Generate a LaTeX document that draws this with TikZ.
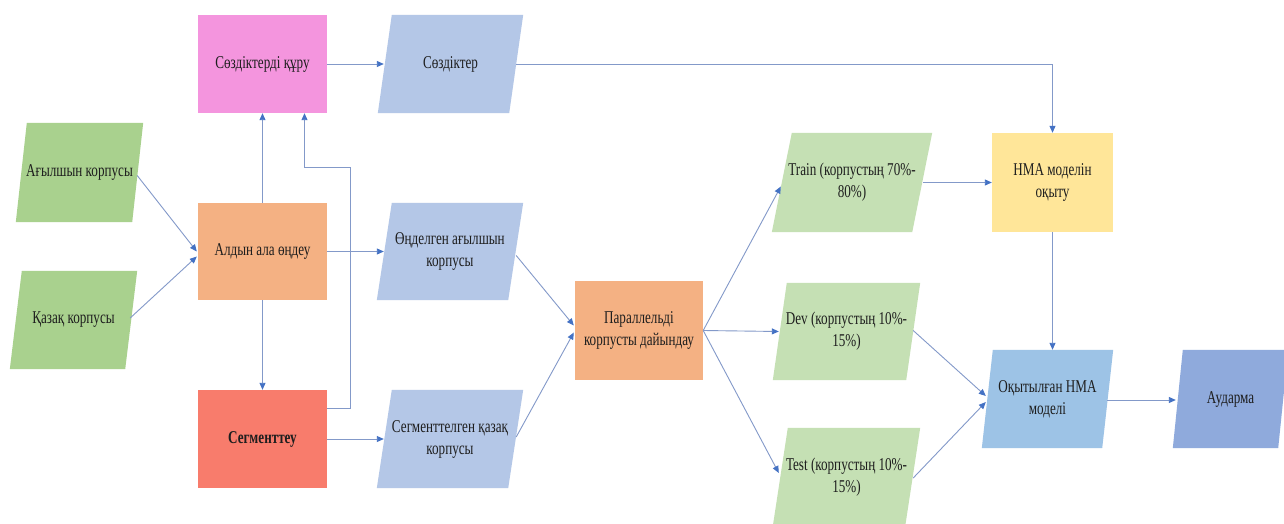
\documentclass[tikz,border=0pt]{standalone}
\usepackage{fontspec}
\setmainfont[FakeStretch=0.73]{Liberation Serif}
\usetikzlibrary{arrows.meta,calc,backgrounds}

\definecolor{inputgreen}{HTML}{A9D18E}
\definecolor{splitgreen}{HTML}{C5E0B4}
\definecolor{dictpink}{HTML}{F495DE}
\definecolor{datablue}{HTML}{B4C7E7}
\definecolor{procorange}{HTML}{F4B183}
\definecolor{segred}{HTML}{F87C6C}
\definecolor{trainyellow}{HTML}{FFE699}
\definecolor{modelblue}{HTML}{9DC3E6}
\definecolor{outblue}{HTML}{8FAADC}
\definecolor{linkline}{HTML}{8399C9}
\definecolor{linktip}{HTML}{4472C4}
\definecolor{labeltext}{HTML}{1E1E1E}

\tikzset{
  x=1pt, y=-1pt,
  shapebox/.style={rectangle, inner sep=0pt, align=center,
    font=\fontsize{18}{22}\selectfont, text=labeltext},
  procbox/.style={shapebox},
  databox/.style={shapebox},
  conn/.style={draw=linkline, line width=0.9pt,
    -{Triangle[length=7pt,width=6pt,color=linktip]}},
}

\begin{document}
\begin{tikzpicture}
\useasboundingbox (0,0) rectangle (1284,524);

% process boxes
\node[procbox, fill=dictpink, minimum width=129pt, minimum height=98pt] (dictb) at (262.5,64) {Сөздіктерді құру};
\node[procbox, fill=procorange, minimum width=129pt, minimum height=97pt] (pre) at (262.5,251.5) {Алдын ала өңдеу};
\node[procbox, fill=segred, minimum width=129pt, minimum height=98pt, font=\fontsize{18}{22}\selectfont\bfseries] (seg) at (262.5,439) {Сегменттеу};
\node[procbox, fill=procorange, minimum width=128pt, minimum height=99pt] (par) at (639,330.5) {Параллельді\\корпусты дайындау};
\node[procbox, fill=trainyellow, minimum width=121pt, minimum height=99pt] (nma) at (1052.5,182.5) {НМА моделін\\оқыту};

% data (parallelogram) boxes, filled on the background layer below
\node[databox, minimum width=127pt, minimum height=99pt] (en) at (79.5,172.5) {Ағылшын корпусы};
\node[databox, minimum width=127pt, minimum height=98pt] (kk) at (73.5,320) {Қазақ корпусы};
\node[databox, minimum width=145pt, minimum height=98pt] (dict) at (450.5,64) {Сөздіктер};
\node[databox, minimum width=146pt, minimum height=97pt] (enp) at (450,251.5) {Өңделген ағылшын\\корпусы};
\node[databox, minimum width=146pt, minimum height=98pt] (kkp) at (450,439) {Сегменттелген қазақ\\корпусы};
\node[databox, minimum width=160pt, minimum height=99pt] (train) at (852,182.5) {Train (корпустың 70\%-\\80\%)};
\node[databox, minimum width=147pt, minimum height=97pt] (dev) at (846.5,331.5) {Dev (корпустың 10\%-\\15\%)};
\node[databox, minimum width=147pt, minimum height=98pt] (test) at (846.5,477) {Test (корпустың 10\%-\\15\%)};
\node[databox, minimum width=131pt, minimum height=98pt] (trained) at (1047.5,399) {Оқытылған НМА\\моделі};
\node[databox, minimum width=115pt, minimum height=98pt] (tr) at (1230.5,399) {Аударма};

\begin{scope}[on background layer]
  \fill[white] (0,0) rectangle (1284,524);
  \foreach \n/\s/\c in {en/11/inputgreen, kk/12/inputgreen, dict/14/datablue,
      enp/15/datablue, kkp/15/datablue, train/20/splitgreen, dev/14/splitgreen,
      test/15/splitgreen, trained/11/modelblue, tr/10/outblue}
    \fill[\c] (\n.south west) -- ($(\n.south east)+(-\s,0)$)
      -- (\n.north east) -- ($(\n.north west)+(\s,0)$) -- cycle;
\end{scope}

% connectors
\draw[conn] ($(en.east)+(-6,3)$) -- ($(pre.west)+(-1,0)$);
\draw[conn] ($(kk.east)+(-7,-2)$) -- ($(pre.west)+(-1,5)$);
\draw[conn] (pre.north) -- (dictb.south);
\draw[conn] (pre.south) -- (seg.north);
\draw[conn] ($(seg.north east)+(0,19)$) -- ++(23,0) |- ($(dictb.south)+(42,54)$) -- ($(dictb.south)+(42,0)$);
\draw[conn] (dictb.east) -- ($(dict.west)+(6,0)$);
\draw[conn] ($(dict.east)+(-7,0)$) -| (nma.north);
\draw[conn] (pre.east) -- ($(enp.west)+(7,0)$);
\draw[conn] (seg.east) -- ($(kkp.west)+(7,0)$);
\draw[conn] ($(enp.east)+(-7,4)$) -- ($(par.west)+(-1,-5)$);
\draw[conn] ($(kkp.east)+(-7,-2)$) -- ($(par.west)+(-1,2)$);
\draw[conn] (par.east) -- ($(train.west)+(9,4)$);
\draw[conn] (par.east) -- ($(dev.west)+(6,0)$);
\draw[conn] (par.east) -- ($(test.west)+(6,-4)$);
\draw[conn] ($(train.east)+(-9,0)$) -- (nma.west);
\draw[conn] (nma.south) -- (nma.south |- trained.north);
\draw[conn] ($(dev.east)+(-7,-1)$) -- ($(trained.west)+(4,-3)$);
\draw[conn] ($(test.east)+(-7,1)$) -- ($(trained.west)+(4,3)$);
\draw[conn] ($(trained.east)+(-6,1)$) -- ($(tr.west)+(3,1)$);
\end{tikzpicture}
\end{document}
